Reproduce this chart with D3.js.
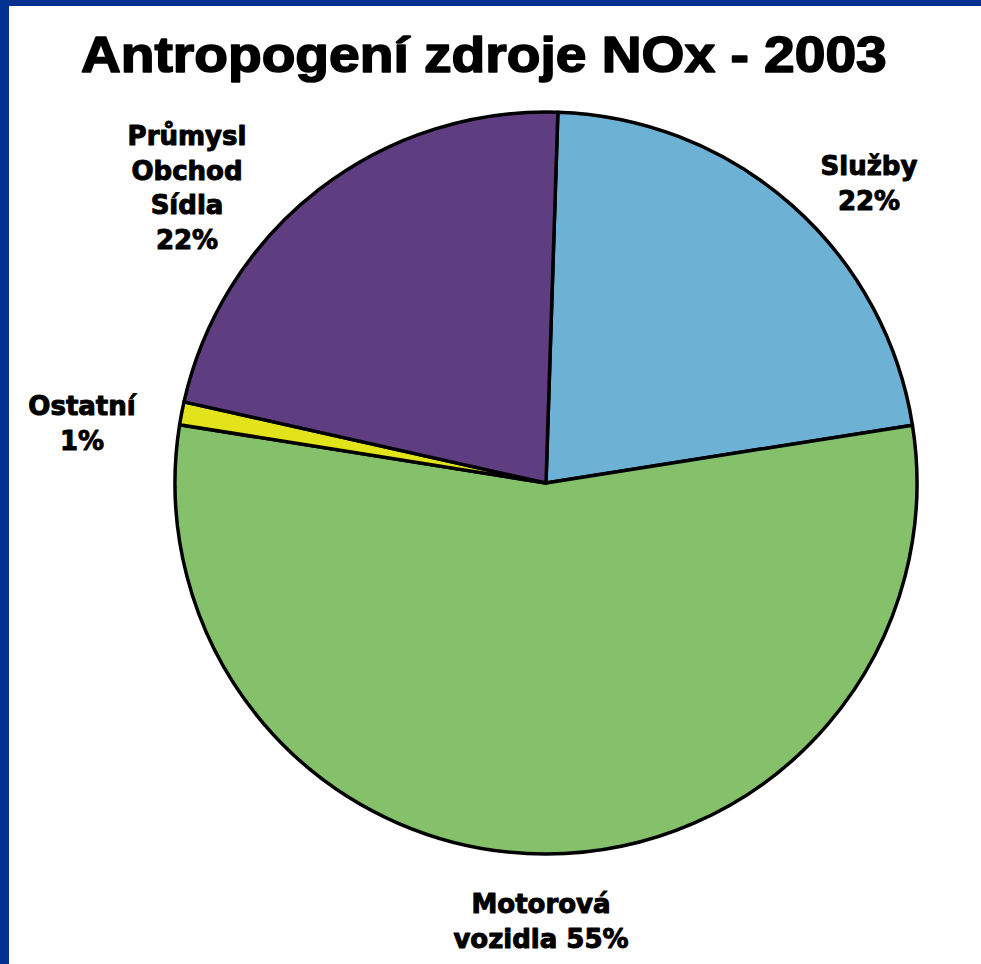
<!DOCTYPE html>
<html>
<head>
<meta charset="utf-8">
<script src="https://cdn.jsdelivr.net/npm/d3@7"></script>
<style>
  html, body { margin: 0; padding: 0; background: #ffffff; }
  svg { display: block; }
</style>
</head>
<body>
<script>
// ---- Data ----
const categories = ["Služby", "Motorová vozidla", "Ostatní", "Průmysl Obchod Sídla"];
const values = [22, 55, 1, 22];
const labelLines = [
  ["Služby", "22%"],
  ["Motorová", "vozidla 55%"],
  ["Ostatní", "1%"],
  ["Průmysl", "Obchod", "Sídla", "22%"]
];
const colors = ["#6db2d4", "#85c06b", "#e3e31c", "#5e3e80"];
const title = "Antropogení zdroje NOx - 2003";

// ---- Layout ----
const W = 981, H = 964;
const cx = 546, cy = 483, R = 371;
const startAngle = 0.032;
// label anchor (x, first baseline) for each category
const labelPos = [[869, 175], [541, 913], [82, 415], [187, 145]];
const lineGap = 34.5;

const svg = d3.select("body").append("svg").attr("width", W).attr("height", H);
svg.append("rect").attr("width", W).attr("height", H).attr("fill", "#ffffff");
// blue frame (top + left)
svg.append("rect").attr("x", 0).attr("y", 0).attr("width", W).attr("height", 6).attr("fill", "#003190");
svg.append("rect").attr("x", 0).attr("y", 0).attr("width", 9).attr("height", H).attr("fill", "#003190");

// title
const t = svg.append("text")
  .attr("x", 0).attr("y", 0)
  .attr("font-family", "'Liberation Sans', Arial, sans-serif")
  .attr("font-weight", "bold")
  .attr("font-size", 50)
  .attr("fill", "#000")
  .attr("stroke", "#000")
  .attr("stroke-width", 1.6)
  .attr("stroke-linejoin", "round")
  .text(title);
const tw = t.node().getComputedTextLength();
const targetW = 806;
t.attr("transform", `translate(81,72) scale(${targetW / tw},1)`);

// pie
const pie = d3.pie().sort(null).value(d => d).startAngle(startAngle).endAngle(startAngle + 2 * Math.PI);
const arc = d3.arc().innerRadius(0).outerRadius(R);
const g = svg.append("g").attr("transform", `translate(${cx},${cy})`);
g.selectAll("path").data(pie(values)).join("path")
  .attr("d", arc)
  .attr("fill", (d, i) => colors[i])
  .attr("stroke", "#000")
  .attr("stroke-width", 3.5)
  .attr("stroke-linejoin", "round");

// labels
const lab = svg.append("g")
  .attr("font-family", "'DejaVu Sans', Verdana, sans-serif")
  .attr("font-weight", "bold")
  .attr("font-size", 26)
  .attr("fill", "#000")
  .attr("stroke", "#000")
  .attr("stroke-width", 1)
  .attr("stroke-linejoin", "round")
  .attr("text-anchor", "middle");
categories.forEach((c, i) => {
  const txt = lab.append("text").attr("x", labelPos[i][0]).attr("y", labelPos[i][1]);
  labelLines[i].forEach((ln, j) => {
    txt.append("tspan").attr("x", labelPos[i][0]).attr("dy", j === 0 ? 0 : lineGap).text(ln);
  });
});
</script>
</body>
</html>
